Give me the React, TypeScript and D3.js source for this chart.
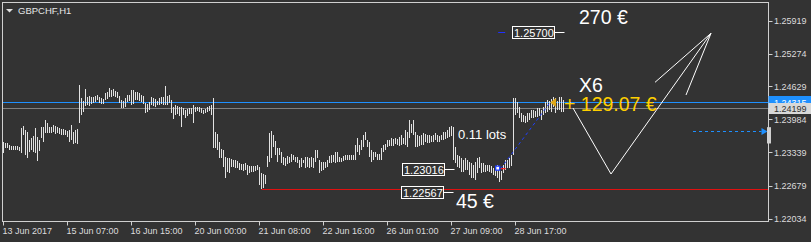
import React from "react";
import * as d3 from "d3";

const symbolTitle = "GBPCHF,H1";

const highs: number[] = [
  1.2354,1.2352,1.2352,1.2348,1.2346,1.2346,1.2346,1.2346,1.2344,1.2381,
  1.2385,1.2377,1.2374,1.2358,1.2362,1.2366,1.2381,1.2364,1.2358,1.2383,
  1.2383,1.2397,1.2391,1.2383,1.2383,1.2387,1.2385,1.2383,1.2381,1.2379,
  1.2379,1.2377,1.2376,1.2377,1.2387,1.2374,1.2377,1.2379,1.2466,1.2440,
  1.2434,1.2458,1.2442,1.2444,1.2442,1.2442,1.2444,1.2446,1.2442,1.2440,
  1.2438,1.2450,1.2452,1.2460,1.2456,1.2458,1.2454,1.2452,1.2444,1.2436,
  1.2434,1.2440,1.2446,1.2446,1.2456,1.2456,1.2452,1.2452,1.2450,1.2446,
  1.2444,1.2430,1.2428,1.2432,1.2442,1.2440,1.2438,1.2434,1.2440,1.2442,
  1.2442,1.2464,1.2444,1.2446,1.2436,1.2423,1.2427,1.2425,1.2423,1.2423,
  1.2421,1.2417,1.2419,1.2421,1.2421,1.2427,1.2423,1.2423,1.2423,1.2421,
  1.2417,1.2419,1.2423,1.2425,1.2427,1.2440,1.2374,1.2370,1.2354,1.2340,
  1.2338,1.2324,1.2322,1.2322,1.2320,1.2319,1.2319,1.2317,1.2313,1.2311,
  1.2311,1.2313,1.2309,1.2307,1.2307,1.2307,1.2307,1.2309,1.2305,1.2293,
  1.2291,1.2289,1.2326,1.2372,1.2376,1.2368,1.2356,1.2342,1.2342,1.2334,
  1.2324,1.2322,1.2326,1.2324,1.2330,1.2328,1.2324,1.2324,1.2319,1.2322,
  1.2319,1.2324,1.2324,1.2322,1.2324,1.2322,1.2338,1.2338,1.2319,1.2315,
  1.2315,1.2315,1.2319,1.2326,1.2328,1.2328,1.2334,1.2334,1.2324,1.2322,
  1.2326,1.2328,1.2328,1.2328,1.2328,1.2328,1.2348,1.2362,1.2348,1.2358,
  1.2368,1.2374,1.2358,1.2354,1.2338,1.2334,1.2334,1.2330,1.2330,1.2342,
  1.2348,1.2350,1.2358,1.2358,1.2362,1.2360,1.2362,1.2360,1.2364,1.2368,
  1.2362,1.2377,1.2374,1.2397,1.2389,1.2397,1.2374,1.2368,1.2366,1.2368,
  1.2372,1.2370,1.2368,1.2368,1.2366,1.2368,1.2372,1.2368,1.2366,1.2368,
  1.2374,1.2374,1.2377,1.2383,1.2385,1.2383,1.2344,1.2328,1.2326,1.2322,
  1.2319,1.2322,1.2319,1.2315,1.2313,1.2309,1.2315,1.2322,1.2324,1.2313,
  1.2313,1.2309,1.2309,1.2309,1.2307,1.2303,1.2299,1.2309,1.2305,1.2297,
  1.2309,1.2319,1.2319,1.2322,1.2328,1.2440,1.2440,1.2432,1.2423,1.2411,
  1.2407,1.2405,1.2411,1.2411,1.2417,1.2417,1.2415,1.2421,1.2421,1.2417,
  1.2423,1.2432,1.2436,1.2434,1.2438,1.2442,1.2440,1.2434,1.2442,1.2442,
  1.2436,
];

const lows: number[] = [
  1.2332,1.2342,1.2342,1.2338,1.2338,1.2338,1.2338,1.2338,1.2336,1.2332,
  1.2368,1.2328,1.2322,1.2334,1.2338,1.2334,1.2332,1.2317,1.2336,1.2362,
  1.2354,1.2372,1.2372,1.2372,1.2372,1.2374,1.2370,1.2372,1.2370,1.2368,
  1.2368,1.2368,1.2364,1.2354,1.2358,1.2350,1.2352,1.2350,1.2391,1.2407,
  1.2413,1.2425,1.2427,1.2425,1.2428,1.2430,1.2432,1.2436,1.2430,1.2428,
  1.2428,1.2436,1.2438,1.2442,1.2442,1.2444,1.2442,1.2440,1.2430,1.2421,
  1.2421,1.2423,1.2432,1.2434,1.2427,1.2428,1.2436,1.2436,1.2434,1.2432,
  1.2428,1.2411,1.2413,1.2417,1.2427,1.2425,1.2423,1.2427,1.2427,1.2428,
  1.2427,1.2427,1.2427,1.2430,1.2411,1.2399,1.2407,1.2409,1.2405,1.2383,
  1.2407,1.2401,1.2405,1.2409,1.2409,1.2391,1.2413,1.2415,1.2413,1.2411,
  1.2409,1.2411,1.2413,1.2415,1.2407,1.2342,1.2342,1.2338,1.2322,1.2322,
  1.2305,1.2283,1.2295,1.2293,1.2305,1.2305,1.2303,1.2303,1.2299,1.2299,
  1.2297,1.2299,1.2289,1.2293,1.2295,1.2295,1.2297,1.2299,1.2270,1.2262,
  1.2264,1.2272,1.2305,1.2315,1.2322,1.2344,1.2328,1.2315,1.2328,1.2313,
  1.2309,1.2307,1.2311,1.2313,1.2315,1.2319,1.2315,1.2313,1.2303,1.2305,
  1.2313,1.2303,1.2305,1.2303,1.2305,1.2303,1.2315,1.2322,1.2293,1.2297,
  1.2299,1.2303,1.2305,1.2313,1.2313,1.2315,1.2313,1.2315,1.2315,1.2315,
  1.2317,1.2319,1.2319,1.2319,1.2319,1.2319,1.2319,1.2334,1.2328,1.2338,
  1.2344,1.2358,1.2344,1.2324,1.2315,1.2319,1.2324,1.2319,1.2319,1.2319,
  1.2334,1.2338,1.2344,1.2346,1.2346,1.2346,1.2350,1.2348,1.2346,1.2348,
  1.2350,1.2348,1.2344,1.2362,1.2372,1.2368,1.2344,1.2344,1.2346,1.2348,
  1.2348,1.2354,1.2352,1.2352,1.2354,1.2354,1.2358,1.2354,1.2354,1.2358,
  1.2358,1.2360,1.2362,1.2364,1.2366,1.2319,1.2313,1.2305,1.2303,1.2295,
  1.2295,1.2299,1.2299,1.2289,1.2283,1.2283,1.2279,1.2293,1.2303,1.2293,
  1.2295,1.2295,1.2297,1.2295,1.2293,1.2289,1.2287,1.2283,1.2275,1.2279,
  1.2293,1.2299,1.2303,1.2303,1.2307,1.2328,1.2407,1.2411,1.2401,1.2393,
  1.2393,1.2391,1.2393,1.2397,1.2401,1.2401,1.2403,1.2403,1.2405,1.2397,
  1.2407,1.2411,1.2413,1.2417,1.2413,1.2423,1.2411,1.2417,1.2417,1.2413,
  1.2413,
];

const timeLabels = [
  "13 Jun 2017", "15 Jun 07:00", "16 Jun 15:00", "20 Jun 00:00", "21 Jun 08:00",
  "22 Jun 16:00", "26 Jun 01:00", "27 Jun 09:00", "28 Jun 17:00",
];
const barsPerTimeLabel = 32;

const priceTicks = [1.25919, 1.25274, 1.24629, 1.23984, 1.23339, 1.22679, 1.22034];
const priceDomain = [1.22034, 1.25919];

const bidPrice = 1.24315;
const askPrice = 1.24199;
const supportPrice = 1.2262;

// boxed price labels: text, price level, anchor bar
const boxLabelTexts = ["1.25700", "1.23016", "1.22567"];
const boxLabelPrices = [1.257, 1.23016, 1.22567];
const boxLabelBars = [280, 225, 224.5];

// trade: open & close
const tradeOpenBar = 248.6;
const tradeOpenPrice = 1.23016;
const tradeCloseBar = 273.3;
const tradeClosePrice = 1.24315;
const takeProfitPrice = 1.257;

// hand-drawn sketch lines: [bar, price]
const sketchLines: [number, number][][] = [
  [[284.75, 1.24206], [303.75, 1.22911], [353.75, 1.25672]],
  [[353.75, 1.25672], [325.75, 1.2471]],
  [[353.75, 1.25672], [341.25, 1.24461]],
];

// text annotations: [text, bar, price, color]
const annotationTexts = ["270 €", "X6", "+ 129.07 €", "45 €", "0.11 lots"];
const annotationBars = [287.75, 287.75, 280.25, 226.25, 227.25];
const annotationPrices = [1.25854, 1.2452, 1.24147, 1.22244, 1.23598];
const annotationColors = ["#ffffff", "#ffffff", "#ffd000", "#ffffff", "#ffffff"];
const annotationSizes = [19.5, 19.5, 19.5, 19.5, 13];

// dashed arrow on the right
const shiftArrowBars = [344.75, 379];
const shiftArrowPrice = 1.2376;
const shiftMarkerPrices = [1.2383, 1.2351];

const BG = "#333333";
const FG = "#dcdcdc";
const FONT = "'Liberation Sans', Arial, sans-serif";

export default function App() {
  const x = d3.scaleLinear().domain([0, highs.length - 1]).range([3.5, 563.5]);
  const y = d3.scaleLinear().domain(priceDomain).range([218.7, 20.7]);
  const py = (p: number) => Math.round(y(p)) + 0.5;

  const right = 768.5;
  const bottom = 221.5;
  const line = d3
    .line<[number, number]>()
    .x((d) => x(d[0]))
    .y((d) => y(d[1]));

  const minLowIdx = d3.minIndex(lows);

  const tx0 = x(tradeOpenBar);
  const ty0 = y(tradeOpenPrice);
  const tx1 = x(tradeCloseBar);
  const ty1 = y(tradeClosePrice);

  return (
    <div>
      <style>{`body{margin:0;background:${BG};}`}</style>
      <svg width={811} height={242} style={{ display: "block", background: BG }} fontFamily={FONT}>
        <rect x={0} y={0} width={811} height={242} fill={BG} />

        {/* horizontal price lines */}
        <line x1={2.5} x2={right} y1={py(bidPrice)} y2={py(bidPrice)} stroke="#1e90ff" strokeWidth={1.2} />
        <line x1={2.5} x2={right} y1={py(askPrice)} y2={py(askPrice)} stroke="#808080" strokeWidth={1} />
        <line x1={x(minLowIdx)} x2={right} y1={py(supportPrice)} y2={py(supportPrice)} stroke="#e01010" strokeWidth={1} />

        {/* bars */}
        <g fill="#e2e2e2" shapeRendering="crispEdges">
          {highs.map((h, i) => {
            const top = Math.round(y(h));
            const bot = Math.round(y(lows[i]));
            return <rect key={i} x={x(i) - 0.5} y={top} width={1} height={Math.max(1, bot - top)} />;
          })}
        </g>

        {/* trade line */}
        <line x1={tx0} y1={ty0} x2={tx1} y2={ty1} stroke="#2040ff" strokeWidth={1} strokeDasharray="3,3" />
        <rect x={tx0 - 5} y={ty0 - 2.5} width={4} height={4} fill="#ffffff" stroke="#2040ff" strokeWidth={1.3} />
        <line x1={tx0} x2={tx0 + 5} y1={ty0} y2={ty0} stroke="#ff2020" strokeWidth={1.2} />
        <line x1={tx0 - 2.5} x2={tx0 + 4.5} y1={py(takeProfitPrice)} y2={py(takeProfitPrice)} stroke="#2030ff" strokeWidth={1} />
        <polygon
          points={`${tx1},${ty1} ${tx1 + 6},${ty1 - 4.5} ${tx1 + 6},${ty1 + 4.5}`}
          fill="#e0a818"
        />

        {/* boxed price labels */}
        {boxLabelTexts.map((t, k) => {
          const ax = Math.round(x(boxLabelBars[k])) + 0.5;
          const cy = py(boxLabelPrices[k]);
          const bx = ax - 52;
          return (
            <g key={t}>
              <line x1={ax - 10} x2={ax} y1={cy} y2={cy} stroke="#ffffff" strokeWidth={1} />
              <rect x={bx} y={cy - 6} width={42} height={12} fill={BG} stroke="#ffffff" strokeWidth={1} />
              <text x={bx + 1.5} y={cy + 4} fill="#ffffff" fontSize={11}>
                {t}
              </text>
            </g>
          );
        })}

        {/* sketch lines */}
        {sketchLines.map((pts, k) => (
          <path key={k} d={line(pts) || ""} fill="none" stroke="#ffffff" strokeWidth={1} />
        ))}

        {/* annotations */}
        {annotationTexts.map((t, k) => (
          <text
            key={t}
            x={x(annotationBars[k])}
            y={y(annotationPrices[k])}
            fill={annotationColors[k]}
            fontSize={annotationSizes[k]}
          >
            {t}
          </text>
        ))}

        {/* dashed arrow at right */}
        <line
          x1={x(shiftArrowBars[0])}
          x2={x(shiftArrowBars[1])}
          y1={py(shiftArrowPrice)}
          y2={py(shiftArrowPrice)}
          stroke="#1e90ff"
          strokeWidth={1}
          strokeDasharray="3,3"
        />
        <polygon
          points={`${x(shiftArrowBars[1])},${py(shiftArrowPrice) - 3.5} ${right - 1},${py(shiftArrowPrice)} ${x(shiftArrowBars[1])},${py(shiftArrowPrice) + 3.5}`}
          fill="#1e90ff"
        />

        {/* frame */}
        <g stroke="#d0d0d0" strokeWidth={1} shapeRendering="crispEdges" fill="none">
          <path d={`M2.5,${bottom} V2.5 H${right} V${bottom} H2.5`} />
        </g>
        <rect
          x={right - 1.5}
          y={y(shiftMarkerPrices[0])}
          width={4}
          height={y(shiftMarkerPrices[1]) - y(shiftMarkerPrices[0])}
          fill="#d0d0d0"
        />

        {/* price axis */}
        {priceTicks.map((p) => (
          <g key={p}>
            <line x1={right} x2={right + 4} y1={py(p)} y2={py(p)} stroke="#d0d0d0" />
            <text x={774} y={y(p) + 3.4} fill={FG} fontSize={9}>
              {p.toFixed(5)}
            </text>
          </g>
        ))}
        <rect x={right} y={Math.round(y(bidPrice)) - 6} width={43} height={12} fill="#1e90ff" />
        <text x={774} y={y(bidPrice) + 3.4} fill="#ffffff" fontSize={9}>
          {bidPrice.toFixed(5)}
        </text>
        <rect x={right} y={Math.round(y(askPrice)) - 5} width={43} height={11} fill="#d8d8d8" />
        <text x={774} y={y(askPrice) + 3.4} fill="#303030" fontSize={9}>
          {askPrice.toFixed(5)}
        </text>

        {/* time axis */}
        {timeLabels.map((t, k) => {
          const tx = x(k * barsPerTimeLabel);
          return (
            <g key={t}>
              <line x1={tx} x2={tx} y1={bottom} y2={bottom + 4} stroke="#d0d0d0" />
              <text x={tx - 1} y={234} fill={FG} fontSize={9}>
                {t}
              </text>
            </g>
          );
        })}

        {/* title */}
        <polygon points="6,9 13,9 9.5,12.5" fill="#e0e0e0" />
        <text x={18} y={14.3} fill="#e6e6e6" fontSize={9.5}>
          {symbolTitle}
        </text>
      </svg>
    </div>
  );
}
